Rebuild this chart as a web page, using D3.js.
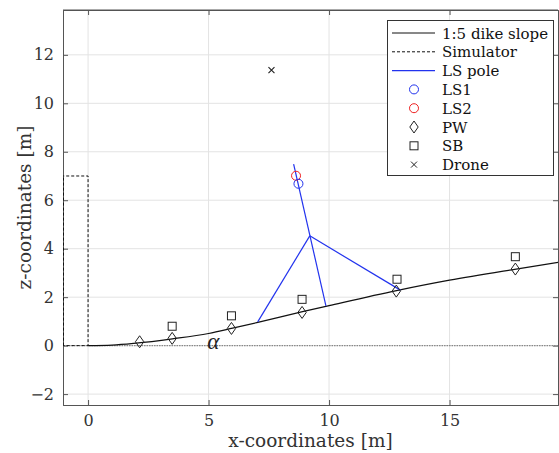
<!DOCTYPE html>
<html><head><meta charset="utf-8">
<script src="https://cdn.jsdelivr.net/npm/d3@7"></script>
<style>body{margin:0;background:#fff}svg{display:block}text{font-family:"DejaVu Serif",serif}</style>
</head><body>
<script>
// ---- data ----
const dikeX = [0, 1, 2, 3.5, 5, 6, 7, 8.9, 10, 12.8, 15, 17.7, 19.6];
const dikeZ = [0, 0.02, 0.1, 0.28, 0.5, 0.72, 0.95, 1.4, 1.65, 2.27, 2.7, 3.15, 3.45];
const simX = [-1.1, 0, 0, -1.1];
const simZ = [0, 0, 7, 7];
const poleMainX = [8.53, 9.87];
const poleMainZ = [7.49, 1.64];
const poleApex = [9.20, 4.53];
const poleLegX = [7.04, 12.96];
const poleLegZ = [0.98, 2.29];
const ls1 = [8.73, 6.68];
const ls2 = [8.63, 7.01];
const pwX = [2.14, 3.49, 5.95, 8.88, 12.79, 17.73];
const pwZ = [0.16, 0.30, 0.71, 1.37, 2.25, 3.16];
const sbX = [3.49, 5.95, 8.88, 12.82, 17.73];
const sbZ = [0.80, 1.23, 1.91, 2.74, 3.67];
const droneX = [7.61];
const droneZ = [11.37];
const xTicks = [0, 5, 10, 15];
const yTicks = [-2, 0, 2, 4, 6, 8, 10, 12];
const legendLabels = ["1:5 dike slope", "Simulator", "LS pole", "LS1", "LS2", "PW", "SB", "Drone"];

const W = 559, H = 453;
const L = 63, R = 558, T = 10, B = 405;
const svg = d3.select("body").append("svg").attr("width", W).attr("height", H);
const x = d3.scaleLinear().domain([-1.04, 19.5]).range([L, R]);
const y = d3.scaleLinear().domain([-2.45, 13.85]).range([B, T]);
const blue = "#2233ee", red = "#ee2222";

const defs = svg.append("defs");
defs.append("clipPath").attr("id", "clip").append("rect").attr("x", L).attr("y", T).attr("width", R - L).attr("height", B - T);

// grid
const grid = svg.append("g").attr("stroke", "#e3e3e3").attr("stroke-width", 1);
xTicks.forEach(t => grid.append("line").attr("x1", x(t)).attr("x2", x(t)).attr("y1", T).attr("y2", B));
yTicks.forEach(t => grid.append("line").attr("x1", L).attr("x2", R).attr("y1", y(t)).attr("y2", y(t)));

// axes
const axCol = "#555";
const gx = svg.append("g").attr("transform", `translate(0,${B})`)
  .call(d3.axisBottom(x).tickValues(xTicks).tickSize(-5).tickPadding(10).tickFormat(d3.format("d")));
const gxt = svg.append("g").attr("transform", `translate(0,${T})`)
  .call(d3.axisTop(x).tickValues(xTicks).tickSize(-5).tickFormat(""));
const gy = svg.append("g").attr("transform", `translate(${L},0)`)
  .call(d3.axisLeft(y).tickValues(yTicks).tickSize(-5).tickPadding(9).tickFormat(d3.format("d")));
const gyr = svg.append("g").attr("transform", `translate(${R},0)`)
  .call(d3.axisRight(y).tickValues(yTicks).tickSize(-5).tickFormat(""));
[gx, gxt, gy, gyr].forEach(g => {
  g.select(".domain").attr("stroke", axCol).attr("stroke-width", 1);
  g.selectAll(".tick line").attr("stroke", axCol);
  g.selectAll("text").attr("fill", "#333").style("font-size", "16px").style("font-family", "DejaVu Serif");
});
svg.append("line").attr("x1", L).attr("x2", R).attr("y1", T).attr("y2", T).attr("stroke", axCol);

const plot = svg.append("g").attr("clip-path", "url(#clip)");
const line = d3.line().x(d => x(d[0])).y(d => y(d[1]));

// zero line (dotted gray)
plot.append("path").attr("d", line([[-1.1, 0], [19.6, 0]])).attr("fill", "none")
  .attr("stroke", "#888").attr("stroke-width", 1.3).attr("stroke-dasharray", "1.5,1");

// simulator
plot.append("path").attr("d", line(simX.map((v, i) => [v, simZ[i]]))).attr("fill", "none")
  .attr("stroke", "#111").attr("stroke-width", 1).attr("stroke-dasharray", "3,2");
plot.append("line").attr("x1", x(-1.04) + 0.5).attr("x2", x(-1.04) + 0.5).attr("y1", y(0)).attr("y2", y(7))
  .attr("stroke", "#111").attr("stroke-dasharray", "3,2");

// dike
plot.append("path").attr("d", d3.line().curve(d3.curveMonotoneX).x(d => x(d[0])).y(d => y(d[1]))(dikeX.map((v, i) => [v, dikeZ[i]]))).attr("fill", "none")
  .attr("stroke", "#111").attr("stroke-width", 1.2);

// pole
plot.append("path").attr("d", line(poleMainX.map((v, i) => [v, poleMainZ[i]]))).attr("fill", "none").attr("stroke", blue).attr("stroke-width", 1.2);
poleLegX.forEach((v, i) => plot.append("path").attr("d", line([poleApex, [v, poleLegZ[i]]])).attr("fill", "none").attr("stroke", blue).attr("stroke-width", 1.2));

// markers
const mk = svg.append("g");
const diamond = (cx, cy, s) => `M${cx},${cy - s}L${cx + s * 0.7},${cy}L${cx},${cy + s}L${cx - s * 0.7},${cy}Z`;
pwX.forEach((v, i) => mk.append("path").attr("d", diamond(x(v), y(pwZ[i]), 6)).attr("fill", "none").attr("stroke", "#222").attr("stroke-width", 1));
sbX.forEach((v, i) => mk.append("rect").attr("x", x(v) - 4).attr("y", y(sbZ[i]) - 4).attr("width", 8).attr("height", 8).attr("fill", "none").attr("stroke", "#222").attr("stroke-width", 1));
const cross = (cx, cy, s) => `M${cx - s},${cy - s}L${cx + s},${cy + s}M${cx - s},${cy + s}L${cx + s},${cy - s}`;
droneX.forEach((v, i) => mk.append("path").attr("d", cross(x(v), y(droneZ[i]), 3)).attr("stroke", "#222").attr("stroke-width", 1.1));
mk.append("circle").attr("cx", x(ls2[0])).attr("cy", y(ls2[1])).attr("r", 4.5).attr("fill", "none").attr("stroke", red).attr("stroke-width", 1);
mk.append("circle").attr("cx", x(ls1[0])).attr("cy", y(ls1[1])).attr("r", 4.5).attr("fill", "none").attr("stroke", blue).attr("stroke-width", 1);

// alpha
svg.append("text").attr("x", x(5.2)).attr("y", y(-0.15)).attr("text-anchor", "middle")
  .style("font-family", "Liberation Serif").style("font-size", "23px").style("font-style", "italic").attr("fill", "#222").text("α");

// axis labels
svg.append("text").attr("x", (L + R) / 2).attr("y", 447).attr("text-anchor", "middle")
  .style("font-size", "18.5px").attr("fill", "#333").text("x-coordinates [m]");
svg.append("text").attr("transform", `translate(31,${(T + B) / 2}) rotate(-90)`).attr("text-anchor", "middle")
  .style("font-size", "18.5px").attr("fill", "#333").text("z-coordinates [m]");

// legend
const lg = svg.append("g");
lg.append("rect").attr("x", 387.5).attr("y", 20.5).attr("width", 166).attr("height", 155).attr("fill", "#fff").attr("stroke", "#333").attr("stroke-width", 1);
const rowY = i => 33 + i * 18.8;
legendLabels.forEach((t, i) => {
  lg.append("text").attr("x", 442).attr("y", rowY(i) + 5.5).style("font-size", "15px").attr("fill", "#111").text(t);
});
lg.append("line").attr("x1", 392).attr("x2", 435).attr("y1", rowY(0)).attr("y2", rowY(0)).attr("stroke", "#111").attr("stroke-width", 1);
lg.append("line").attr("x1", 392).attr("x2", 435).attr("y1", rowY(1)).attr("y2", rowY(1)).attr("stroke", "#111").attr("stroke-width", 1).attr("stroke-dasharray", "3,2");
lg.append("line").attr("x1", 392).attr("x2", 435).attr("y1", rowY(2)).attr("y2", rowY(2)).attr("stroke", blue).attr("stroke-width", 1.2);
const mx = 414;
lg.append("circle").attr("cx", mx).attr("cy", rowY(3)).attr("r", 4.5).attr("fill", "none").attr("stroke", blue);
lg.append("circle").attr("cx", mx).attr("cy", rowY(4)).attr("r", 4.5).attr("fill", "none").attr("stroke", red);
lg.append("path").attr("d", diamond(mx, rowY(5), 6)).attr("fill", "none").attr("stroke", "#222");
lg.append("rect").attr("x", mx - 4).attr("y", rowY(6) - 4).attr("width", 8).attr("height", 8).attr("fill", "none").attr("stroke", "#222");
lg.append("path").attr("d", cross(mx, rowY(7), 3)).attr("stroke", "#222");
</script>
</body></html>
